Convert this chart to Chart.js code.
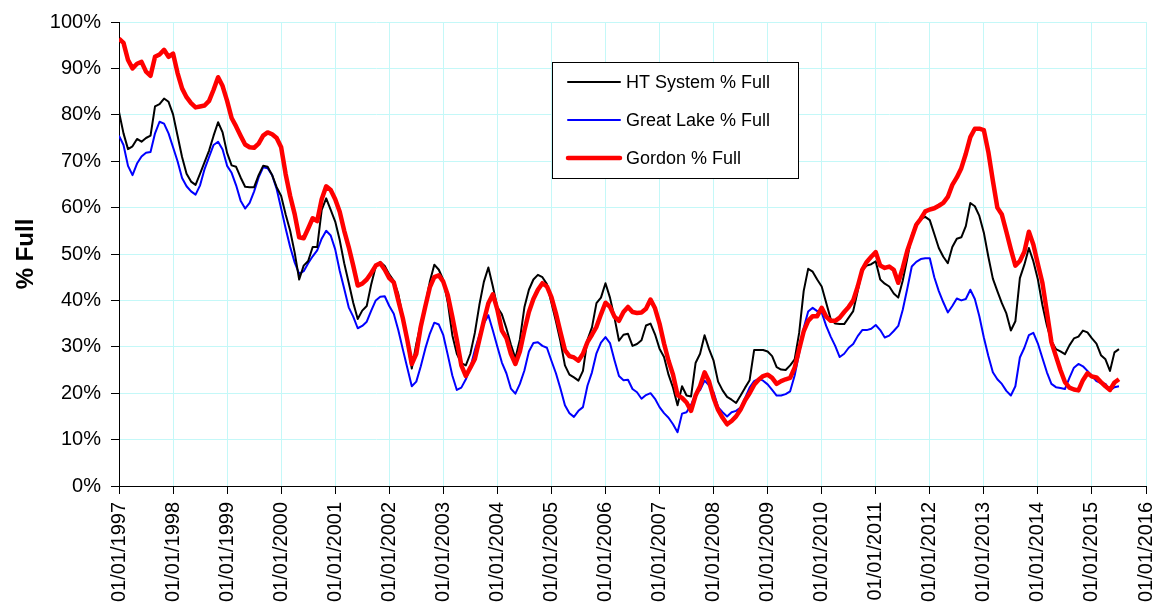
<!DOCTYPE html>
<html><head><meta charset="utf-8">
<script src="https://cdn.jsdelivr.net/npm/chart.js@4.4.1/dist/chart.umd.min.js"></script>
<style>html,body{margin:0;padding:0;background:#fff;}#wrap{width:1159px;height:607px;}</style>
</head><body><div id="wrap"><canvas id="c" width="1159" height="607"></canvas></div>
<script>
// Tick labels on the date axis (one per year, monthly data starting Jan 1997)
const tickLabels = ['01/01/1997','01/01/1998','01/01/1999','01/01/2000','01/01/2001','01/01/2002','01/01/2003','01/01/2004','01/01/2005','01/01/2006','01/01/2007','01/01/2008','01/01/2009','01/01/2010','01/01/2011','01/01/2012','01/01/2013','01/01/2014','01/01/2015','01/01/2016'];
const seriesNames = ['HT System % Full','Great Lake % Full','Gordon % Full'];

const htSystem = [80.6,76.0,72.6,73.2,74.8,74.2,75.0,75.5,81.8,82.3,83.5,82.8,80.1,75.5,70.9,67.3,65.6,64.9,67.3,69.8,72.3,75.5,78.4,76.2,
71.8,69.1,68.8,66.5,64.5,64.4,64.4,67.0,69.0,68.8,67.0,64.4,62.5,58.5,55.0,50.3,44.5,47.5,48.5,51.5,51.5,59.5,62.0,59.5,
57.0,53.0,48.0,43.8,39.5,36.0,37.8,38.8,43.5,47.3,48.3,47.4,45.6,44.2,41.4,36.5,31.0,25.3,30.6,35.0,39.0,44.0,47.7,46.6,
44.4,39.5,32.5,28.5,26.5,26.0,28.5,33.0,39.0,44.0,47.1,43.0,38.5,37.0,34.0,30.5,27.5,31.6,38.5,42.3,44.5,45.5,45.0,43.5,
39.5,35.5,31.2,26.0,24.0,23.4,22.7,24.8,31.5,34.2,39.4,40.6,43.7,40.6,36.3,31.3,32.6,32.8,30.2,30.6,31.4,34.6,35.0,32.7,
29.6,27.8,24.0,21.2,17.4,21.5,19.5,19.3,26.5,28.5,32.5,29.5,27.0,22.5,20.6,19.2,18.6,17.9,19.5,21.2,22.8,29.3,29.3,29.3,
29.0,28.0,25.6,25.1,25.0,26.0,27.3,33.0,42.0,46.8,46.2,44.5,43.0,39.5,36.0,35.0,34.9,34.9,36.3,37.7,42.0,46.5,47.5,47.8,
48.4,44.5,43.6,43.0,41.5,40.6,44.3,49.0,54.0,56.6,57.6,58.0,57.3,54.3,51.3,49.4,48.0,51.5,53.3,53.6,56.0,61.0,60.3,58.2,
54.6,49.4,44.7,42.0,39.4,37.2,33.5,35.5,44.8,47.7,51.3,48.4,44.5,39.0,34.6,31.2,29.5,29.0,28.4,30.3,31.8,32.2,33.5,33.1,
31.8,30.7,28.2,27.3,24.8,28.8,29.5];

const greatLake = [75.5,73.5,69.0,67.0,69.5,71.0,71.8,72.0,76.0,78.5,78.1,76.0,73.0,70.0,66.4,64.6,63.5,62.8,64.8,68.3,70.9,73.5,74.2,72.5,
69.0,67.5,64.8,61.5,59.8,61.0,63.5,66.5,68.7,68.5,67.0,64.0,59.8,55.5,51.5,48.2,45.7,46.3,48.0,49.5,50.8,53.3,55.0,54.0,
51.0,46.4,42.5,38.5,36.5,34.0,34.5,35.4,37.8,40.0,40.8,40.9,38.8,37.1,33.6,29.5,25.5,21.5,22.5,25.8,29.6,32.8,35.2,34.8,
32.5,28.2,23.8,20.7,21.2,23.0,25.5,29.3,32.5,35.0,36.8,33.5,30.0,26.6,24.3,21.0,19.9,22.0,24.9,29.0,30.8,31.0,30.2,29.8,
27.0,24.3,21.0,17.4,15.7,14.9,16.2,17.0,21.6,24.5,28.6,30.9,32.1,30.8,27.1,23.7,22.8,22.9,20.9,20.2,18.8,19.6,20.0,18.8,
17.0,15.7,14.7,13.3,11.6,15.6,15.9,17.5,19.8,20.7,22.7,21.7,20.2,17.0,15.9,15.0,15.9,16.2,16.9,19.0,21.2,22.6,23.1,22.7,
21.9,20.7,19.5,19.5,19.8,20.4,23.8,28.6,34.0,37.6,38.4,37.7,37.4,34.5,32.2,30.2,27.8,28.5,29.8,30.6,32.3,33.6,33.6,33.9,
34.7,33.6,32.0,32.4,33.4,34.5,38.0,42.5,47.3,48.3,48.9,49.1,49.1,45.0,42.0,39.6,37.4,38.8,40.4,40.0,40.3,42.3,40.3,36.6,
32.0,28.0,24.5,23.0,22.0,20.5,19.5,21.5,27.7,29.8,32.5,33.0,30.7,27.6,24.5,22.0,21.3,21.1,20.9,23.3,25.5,26.3,25.8,24.8,
23.7,22.6,22.2,22.0,20.6,21.3,21.5];

const gordon = [96.4,95.5,91.8,90.0,91.0,91.4,89.3,88.4,92.5,93.0,94.0,92.5,93.2,89.0,85.7,83.8,82.5,81.6,81.8,82.0,83.0,85.4,88.1,86.2,
83.0,79.3,77.5,75.5,73.6,73.0,72.9,73.8,75.5,76.2,75.8,75.0,73.0,67.2,62.5,58.6,53.6,53.4,55.5,57.7,57.1,61.8,64.6,63.8,
61.8,59.1,55.0,51.5,47.5,43.2,43.6,44.5,45.9,47.5,48.0,46.6,44.8,43.9,40.0,36.2,31.5,26.3,28.5,34.4,38.7,42.8,45.0,45.4,
44.0,41.1,36.5,31.5,26.0,23.7,25.5,27.4,31.5,35.6,39.4,41.3,38.0,33.5,31.9,28.5,26.3,29.0,33.5,37.5,40.3,42.3,43.7,43.0,
40.7,37.2,33.2,29.3,28.0,27.7,27.0,28.5,31.0,32.6,34.3,37.0,39.5,38.6,36.5,35.6,37.5,38.6,37.5,37.3,37.4,38.2,40.2,38.3,
35.0,30.7,27.0,24.0,19.6,19.0,18.0,16.2,19.5,21.5,24.5,22.5,19.0,16.4,14.7,13.3,14.0,15.0,16.5,18.5,20.0,21.8,22.9,23.7,
24.0,23.3,22.0,22.6,23.0,23.3,25.5,29.5,33.3,35.6,36.6,36.6,38.4,36.5,35.6,35.6,36.3,37.5,38.6,40.0,43.0,46.6,48.3,49.4,
50.4,47.5,47.0,47.3,46.6,43.8,47.0,50.7,53.5,56.3,57.6,59.2,59.6,59.85,60.4,61.0,62.3,64.9,66.5,68.5,71.6,75.2,77.0,77.0,
76.7,72.0,65.8,60.0,58.5,54.8,51.0,47.5,48.5,50.5,54.8,52.0,47.8,43.8,37.5,31.0,28.0,25.0,22.4,21.2,20.8,20.6,22.8,24.3,
23.6,23.4,22.4,21.5,20.7,22.3,23.0];

const toPoints = arr => arr.map((v, i) => ({x: i, y: v}));

const legendBox = {
  id: 'legendBox',
  afterDraw(chart) {
    const ctx = chart.ctx;
    const bx = 552, by = 62, bw = 246, bh = 116;
    ctx.save();
    ctx.fillStyle = '#fff';
    ctx.fillRect(bx, by, bw, bh);
    ctx.strokeStyle = '#000';
    ctx.lineWidth = 1;
    ctx.strokeRect(bx + 0.5, by + 0.5, bw, bh);
    const rows = [82, 120, 158];
    chart.data.datasets.forEach((ds, i) => {
      ctx.beginPath();
      ctx.strokeStyle = ds.borderColor;
      ctx.lineWidth = ds.borderWidth;
      ctx.lineCap = 'round';
      ctx.moveTo(568, rows[i]);
      ctx.lineTo(620, rows[i]);
      ctx.stroke();
      ctx.fillStyle = '#000';
      ctx.font = '18px "Liberation Sans", Arial, sans-serif';
      ctx.textBaseline = 'middle';
      ctx.textAlign = 'left';
      ctx.fillText(ds.label, 626, rows[i] + 1);
    });
    ctx.restore();
  }
};

Chart.defaults.font.family = '"Liberation Sans", Arial, sans-serif';
Chart.defaults.color = '#000';

new Chart(document.getElementById('c'), {
  type: 'line',
  data: {
    datasets: [
      {label: seriesNames[0], data: toPoints(htSystem), borderColor: '#000000', borderWidth: 2, order: 1},
      {label: seriesNames[1], data: toPoints(greatLake), borderColor: '#0000ff', borderWidth: 2, order: 2},
      {label: seriesNames[2], data: toPoints(gordon), borderColor: '#ff0000', borderWidth: 4.5, order: 0}
    ]
  },
  options: {
    responsive: false,
    animation: false,
    devicePixelRatio: 1,
    layout: {padding: {top: 18, right: 13, left: 0, bottom: 0}},
    elements: {point: {radius: 0}, line: {tension: 0, borderJoinStyle: 'round', fill: false}},
    plugins: {legend: {display: false}, tooltip: {enabled: false}},
    scales: {
      x: {
        type: 'linear', min: 0, max: 228,
        grid: {color: '#c4f8f8', tickColor: '#000', tickLength: 8, lineWidth: 1},
        border: {color: '#000', width: 1},
        ticks: {stepSize: 12, autoSkip: false, minRotation: 90, maxRotation: 90, padding: 8,
          font: {size: 20}, color: '#000',
          callback: v => tickLabels[Math.round(v / 12)]},
        afterFit: s => { s.height = 121; s.paddingRight = 0; s.paddingLeft = 0; }
      },
      y: {
        min: 0, max: 100,
        grid: {color: '#c4f8f8', tickColor: '#000', tickLength: 8, lineWidth: 1},
        border: {color: '#000', width: 1},
        ticks: {stepSize: 10, padding: 10, font: {size: 20}, color: '#000', callback: v => v + '%'},
        title: {display: true, text: '% Full', font: {size: 24, weight: 'bold'}, color: '#000', padding: {top: 12, bottom: 0}},
        afterFit: s => { s.width = 119; }
      }
    }
  },
  plugins: [legendBox]
});
</script>
</body></html>
